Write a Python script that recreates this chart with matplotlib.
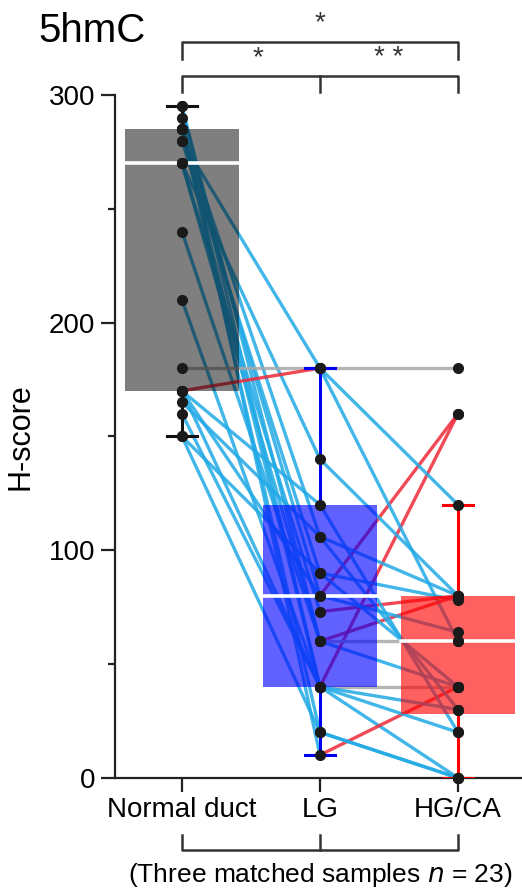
import numpy as np
import matplotlib
matplotlib.use("Agg")
import matplotlib.pyplot as plt

plt.rcParams["font.family"] = ["Liberation Sans", "DejaVu Sans"]

GROUPS = ["Normal duct", "LG", "HG/CA"]

# matched samples (H-score) per patient
normal = [295, 295, 290, 285, 285, 285, 285, 280, 280, 270, 270, 270,
          240, 210, 180, 170, 170, 170, 170, 165, 160, 150, 150]
lg = [40, 60, 10, 80, 20, 40, 106, 90, 180, 140, 73, 60,
      60, 40, 180, 180, 40, 80, 120, 106, 40, 20, 90]
hgca = [0, 40, 40, 160, 0, 160, 80, 78, 60, 80, 80, 80,
        60, 40, 180, 120, 30, 64, 20, 30, 20, 0, 40]

# box summary per group
box_q1 = [170, 40, 28]
box_med = [270, 80, 60]
box_q3 = [285, 120, 80]
whisk_lo = [150, 10, 0]
whisk_hi = [295, 180, 120]

box_colors = [(0, 0, 0, 0.5), (0, 0, 1, 0.62), (1, 0, 0, 0.62)]
whisk_colors = ["#111111", "#0000ee", "#ff0000"]

UP = "#ee2a3a"
DOWN = "#22aae6"
SAME = "#a8a8a8"

fig = plt.figure(figsize=(5.22, 8.93), dpi=100)
ax = fig.add_axes([0.220, 0.129, 0.780, 0.7646])

data = np.array([normal, lg, hgca])
xs = np.arange(3)

# paired lines
for j in range(data.shape[1]):
    for k in range(2):
        a, b = data[k, j], data[k + 1, j]
        col = UP if b > a else (DOWN if b < a else SAME)
        ax.plot([k, k + 1], [a, b], color=col, lw=2.4, alpha=0.85,
                solid_capstyle="round", zorder=2)

# boxes (translucent, over the lines)
hw = 0.41
for i in range(3):
    ax.fill_between([i - hw, i + hw], box_q1[i], box_q3[i],
                    color=box_colors[i], lw=0, zorder=3)
    ax.plot([i - hw, i + hw], [box_med[i], box_med[i]], color="white",
            lw=2.6, zorder=4)
    ax.plot([i, i], [whisk_lo[i], box_q1[i]], color=whisk_colors[i], lw=2.2, zorder=5)
    ax.plot([i, i], [box_q3[i], whisk_hi[i]], color=whisk_colors[i], lw=2.2, zorder=5)
    for v in (whisk_lo[i], whisk_hi[i]):
        ax.plot([i - 0.11, i + 0.11], [v, v], color=whisk_colors[i], lw=2.2, zorder=5)

# points
for i in range(3):
    ax.plot(np.full(data.shape[1], xs[i]), data[i], "o", color="#1a1a1a",
            ms=7, zorder=6, clip_on=False)

ax.set_xlim(-0.486, 2.464)
ax.set_ylim(0, 300)
ax.spines["top"].set_visible(False)
ax.spines["right"].set_visible(False)
for s in ("left", "bottom"):
    ax.spines[s].set_linewidth(1.6)
    ax.spines[s].set_color("#222222")

ax.set_yticks([0, 100, 200, 300])
ax.set_yticks([50, 150, 250], minor=True)
ax.set_xticks(xs)
ax.set_xticklabels(GROUPS)
ax.tick_params(axis="both", which="major", length=10, width=1.6,
               labelsize=20, color="#222222", pad=4)
ax.tick_params(axis="y", which="minor", length=5, width=1.6, color="#222222")
ax.set_ylabel("H-score", fontsize=22, labelpad=10)

fig.text(0.073, 0.953, "5hmC", fontsize=29, ha="left", va="baseline")

# significance brackets above the axes
kw = dict(color="#333333", lw=1.8, clip_on=False, zorder=7)
ax.plot([0, 0, 2, 2], [315.8, 323.2, 323.2, 315.8], **kw)
ax.plot([0, 0, 2, 2], [301.3, 308.3, 308.3, 301.3], **kw)
ax.plot([1, 1], [301.3, 308.3], **kw)
ax.text(1.0, 326, "*", fontsize=20, ha="center", va="bottom", color="#333333")
ax.text(0.55, 310.5, "*", fontsize=20, ha="center", va="bottom", color="#333333")
ax.text(1.5, 310.5, "* *", fontsize=20, ha="center", va="bottom", color="#333333")

# matched samples bracket below
tr = ax.get_xaxis_transform()
ax.plot([0, 0, 2, 2], [-0.0835, -0.1054, -0.1054, -0.0835], color="#333333",
        lw=1.8, transform=tr, clip_on=False)
ax.plot([1, 1], [-0.0835, -0.1054], color="#333333", lw=1.8, transform=tr,
        clip_on=False)
ax.text(1.0, -0.152, "(Three matched samples $\\it{n}$ = 23)", fontsize=19,
        ha="center", va="baseline", transform=tr)

fig.savefig("out.png", dpi=100)
